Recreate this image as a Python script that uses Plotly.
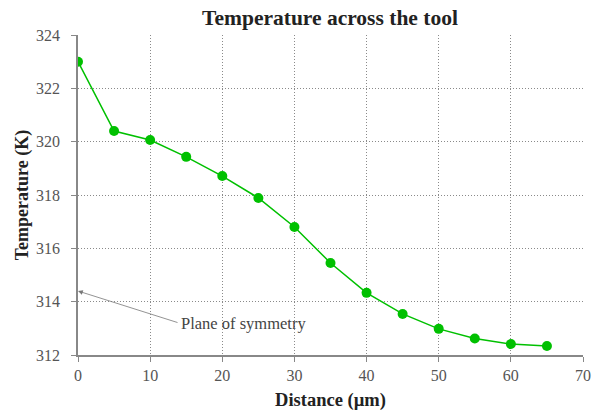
import plotly.graph_objects as go

distance = [0, 5, 10, 15, 20, 25, 30, 35, 40, 45, 50, 55, 60, 65]
temperature = [323.0, 320.4, 320.06, 319.43, 318.71, 317.89, 316.8, 315.45, 314.33, 313.54, 312.98, 312.62, 312.41, 312.34]
x_ticks = [0, 10, 20, 30, 40, 50, 60, 70]
y_ticks = [312, 314, 316, 318, 320, 322, 324]

FONT = "Liberation Serif"
green = "#00c000"

fig = go.Figure()
fig.add_trace(go.Scatter(
    x=distance, y=temperature, mode="lines+markers",
    line=dict(color=green, width=1.5),
    marker=dict(color=green, size=10),
    showlegend=False,
))

fig.add_annotation(x=0, y=314.4, ax=14.0, ay=313.2, xref="x", yref="y",
                   axref="x", ayref="y", text="", showarrow=True,
                   arrowhead=2, arrowsize=1.2, arrowwidth=0.8, arrowcolor="#777777")
fig.add_annotation(x=14.0, y=313.2, xref="x", yref="y", text="Plane of symmetry",
                   showarrow=False, xanchor="left", yanchor="middle",
                   font=dict(family=FONT, size=16.5, color="#444444"))

fig.update_layout(
    width=600, height=412,
    margin=dict(l=78, r=17, t=35, b=57),
    paper_bgcolor="white", plot_bgcolor="white",
    title=dict(text="<b>Temperature across the tool</b>", x=0.55, xanchor="center",
               y=0.958, yanchor="middle",
               font=dict(family=FONT, size=21.5, color="#222222")),
    font=dict(family=FONT, color="#333333"),
)
fig.update_xaxes(
    range=[0, 70], tickvals=x_ticks, ticktext=[str(v) for v in x_ticks],
    showgrid=True, gridcolor="#8a8a8a", griddash="1px,2px", gridwidth=1,
    showline=True, linecolor="#888888", linewidth=1.5,
    ticks="outside", ticklen=5, tickcolor="#888888",
    tickfont=dict(family=FONT, size=16, color="#555555"),
    title=dict(text="<b>Distance (µm)</b>", font=dict(family=FONT, size=18.5, color="#222222"), standoff=10),
    zeroline=False, automargin=False,
)
fig.update_yaxes(
    range=[312, 324], tickvals=y_ticks, ticktext=[str(v) for v in y_ticks],
    showgrid=True, gridcolor="#8a8a8a", griddash="1px,2px", gridwidth=1,
    showline=True, linecolor="#888888", linewidth=1.5,
    ticks="outside", ticklen=5, tickcolor="#888888",
    tickfont=dict(family=FONT, size=16, color="#555555"),
    ticklabelstandoff=8,
    title=dict(text="<b>Temperature (K)</b>", font=dict(family=FONT, size=18, color="#222222"), standoff=3),
    zeroline=False, automargin=False,
)

fig.write_html("out.html")
